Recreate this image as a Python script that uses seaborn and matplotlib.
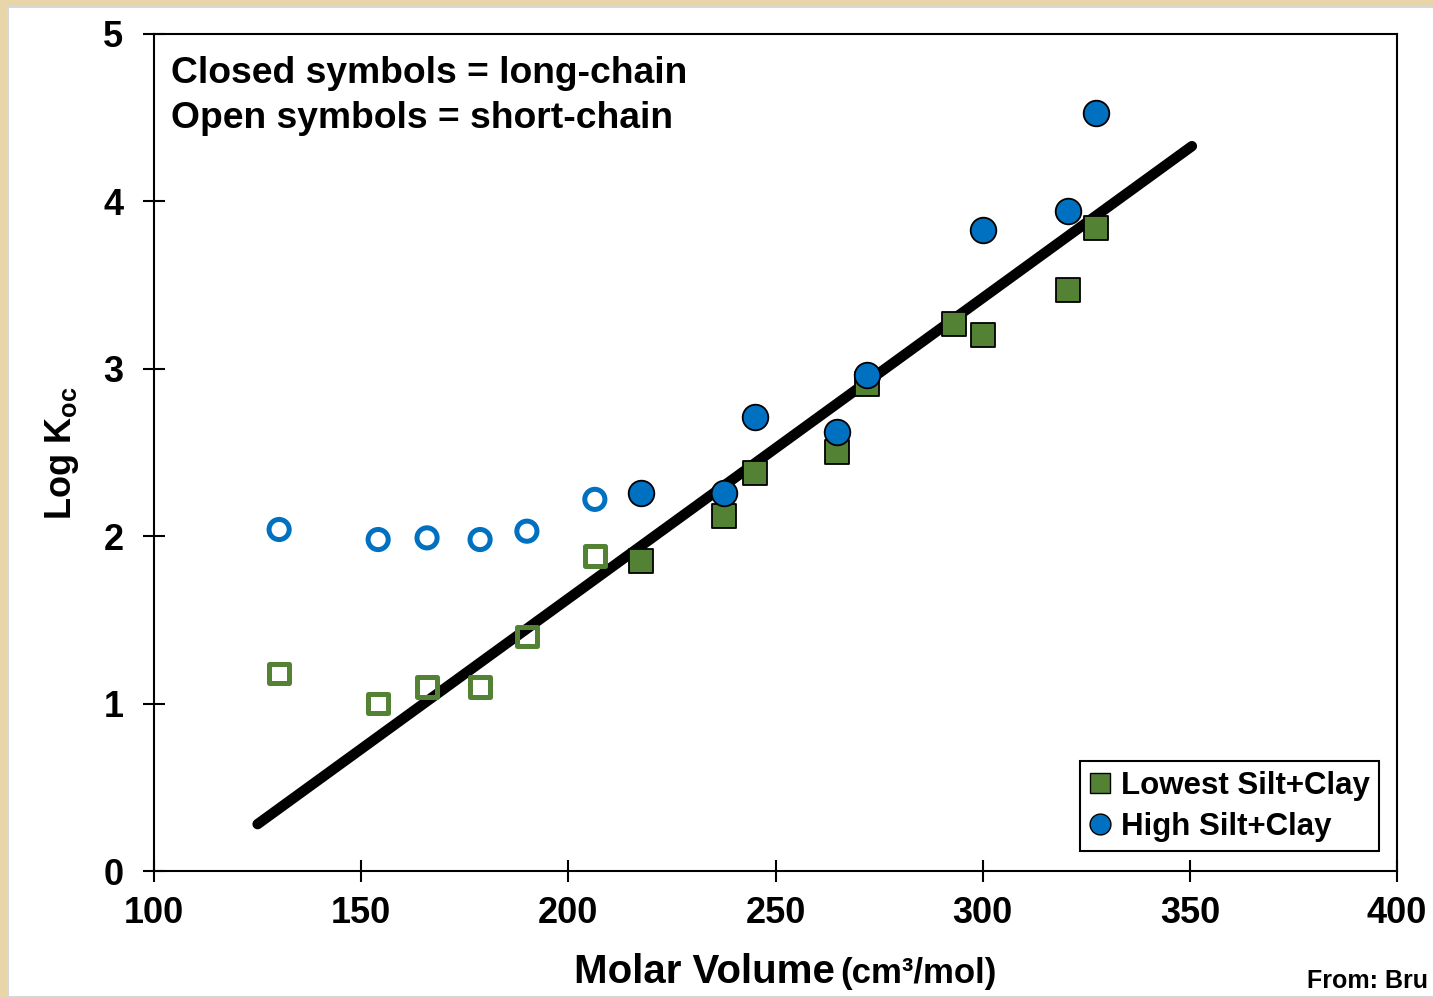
import matplotlib
matplotlib.use("Agg")
import matplotlib.pyplot as plt
from matplotlib.lines import Line2D
from matplotlib.patches import Rectangle
import pandas as pd
import seaborn as sns

# Molar volume (cm3/mol) vs log Koc
# open symbols = short-chain compounds
short_volume = [130.2, 154.1, 165.9, 178.7, 190.0, 206.4]
short_koc_low = [1.18, 1.00, 1.10, 1.10, 1.40, 1.88]
short_koc_high = [2.04, 1.98, 1.99, 1.98, 2.03, 2.22]

# closed symbols = long-chain compounds
long_volume_low = [217.5, 237.6, 245.1, 264.9, 272.1, 293.1, 300.1, 320.6, 327.4]
long_koc_low = [1.85, 2.12, 2.38, 2.50, 2.91, 3.27, 3.20, 3.47, 3.84]
long_volume_high = [217.5, 237.6, 245.1, 264.9, 272.1, 300.1, 320.6, 327.4]
long_koc_high = [2.26, 2.26, 2.71, 2.62, 2.96, 3.83, 3.94, 4.53]

# regression line end points
fit_volume = [125.0, 350.5]
fit_koc = [0.28, 4.33]

legend_labels = ["Lowest Silt+Clay", "High Silt+Clay"]
x_ticks = [100, 150, 200, 250, 300, 350, 400]
y_ticks = [0, 1, 2, 3, 4, 5]

GREEN = "#548235"
BLUE = "#0070C0"

sns.set_style("white")
plt.rcParams["font.family"] = ["Liberation Sans", "DejaVu Sans"]
plt.rcParams["font.weight"] = "bold"
plt.rcParams["text.color"] = "black"
plt.rcParams["xtick.color"] = "black"
plt.rcParams["ytick.color"] = "black"
plt.rcParams["mathtext.fontset"] = "custom"
plt.rcParams["mathtext.rm"] = "Liberation Sans:bold"
plt.rcParams["mathtext.bf"] = "Liberation Sans:bold"

fig = plt.figure(figsize=(14.33, 9.97), dpi=100, facecolor="#E8D6A8")
# white slide panel on the beige border
fig.patches.append(Rectangle((8 / 1433, 0), 1.0, 1 - 7 / 997, transform=fig.transFigure,
                             facecolor="white", edgecolor="#D8D8D8", linewidth=1.5, zorder=-5))
ax = fig.add_axes([154 / 1433, 1 - 871 / 997, (1397 - 154) / 1433, (871 - 34) / 997])
ax.set_facecolor("white")

fit = pd.DataFrame({"volume": fit_volume, "koc": fit_koc})
sns.lineplot(data=fit, x="volume", y="koc", ax=ax, color="black", linewidth=7.5,
             solid_capstyle="round", zorder=2)

short_df = pd.DataFrame({"volume": short_volume, "low": short_koc_low, "high": short_koc_high})
sns.scatterplot(data=short_df, x="volume", y="high", ax=ax, marker="o", s=210,
                facecolors="none", edgecolor=BLUE, linewidth=3.6, zorder=3)
sns.scatterplot(data=short_df, x="volume", y="low", ax=ax, marker="s", s=200,
                facecolors="none", edgecolor=GREEN, linewidth=3.6, zorder=3)

low_df = pd.DataFrame({"volume": long_volume_low, "koc": long_koc_low})
high_df = pd.DataFrame({"volume": long_volume_high, "koc": long_koc_high})
sns.scatterplot(data=low_df, x="volume", y="koc", ax=ax, marker="s", s=290,
                color=GREEN, edgecolor="black", linewidth=1.3, zorder=3)
sns.scatterplot(data=high_df, x="volume", y="koc", ax=ax, marker="o", s=340,
                color=BLUE, edgecolor="black", linewidth=1.3, zorder=4)

ax.set_xlim(100, 400)
ax.set_ylim(0, 5)
ax.set_xticks(x_ticks)
ax.set_yticks(y_ticks)
ax.set_xlabel("")
ax.set_ylabel("")
for sp in ax.spines.values():
    sp.set_visible(True)
    sp.set_color("black")
    sp.set_linewidth(1.5)

ax.tick_params(axis="both", direction="inout", length=16, width=1.5, color="black",
               labelcolor="black", bottom=True, left=True, top=False, right=False,
               labelsize=26)
ax.tick_params(axis="x", pad=10)
ax.tick_params(axis="y", pad=14)
for lab in ax.get_xticklabels() + ax.get_yticklabels():
    lab.set_fontweight("bold")

ax.text(0.0137, 0.9415, "Closed symbols = long-chain", transform=ax.transAxes,
        fontsize=26.8, fontweight="bold", va="baseline", ha="left")
ax.text(0.0137, 0.8877, "Open symbols = short-chain", transform=ax.transAxes,
        fontsize=26.8, fontweight="bold", va="baseline", ha="left")

handles = [
    Line2D([], [], linestyle="none", marker="s", markersize=14, markerfacecolor=GREEN,
           markeredgecolor="black", markeredgewidth=1.0),
    Line2D([], [], linestyle="none", marker="o", markersize=15, markerfacecolor=BLUE,
           markeredgecolor="black", markeredgewidth=1.0),
]
leg = ax.legend(handles, legend_labels, loc="lower right", bbox_to_anchor=(0.9855, 0.024),
                fontsize=22.5, frameon=True, fancybox=False, framealpha=1, borderpad=0.3,
                handlelength=0.7, handletextpad=0.3, labelspacing=0.35, borderaxespad=0)
leg.get_frame().set_edgecolor("black")
leg.get_frame().set_linewidth(1.5)
for t in leg.get_texts():
    t.set_fontweight("bold")

# axis titles
fig.text(835 / 1433, 1 - 983 / 997, "Molar Volume", fontsize=29, fontweight="bold",
         ha="right", va="baseline")
fig.text(840 / 1433, 1 - 983 / 997, "(cm³/mol)", fontsize=25, fontweight="bold",
         ha="left", va="baseline")
fig.text(62 / 1433, 1 - 453 / 997, r"Log K$_{\mathrm{oc}}$", fontsize=26, fontweight="bold",
         rotation=90, ha="center", va="center")
fig.text(1307 / 1433, 1 - 988 / 997, "From: Bru", fontsize=18, fontweight="bold",
         ha="left", va="baseline")

fig.savefig("out.png", dpi=100, facecolor=fig.get_facecolor())
